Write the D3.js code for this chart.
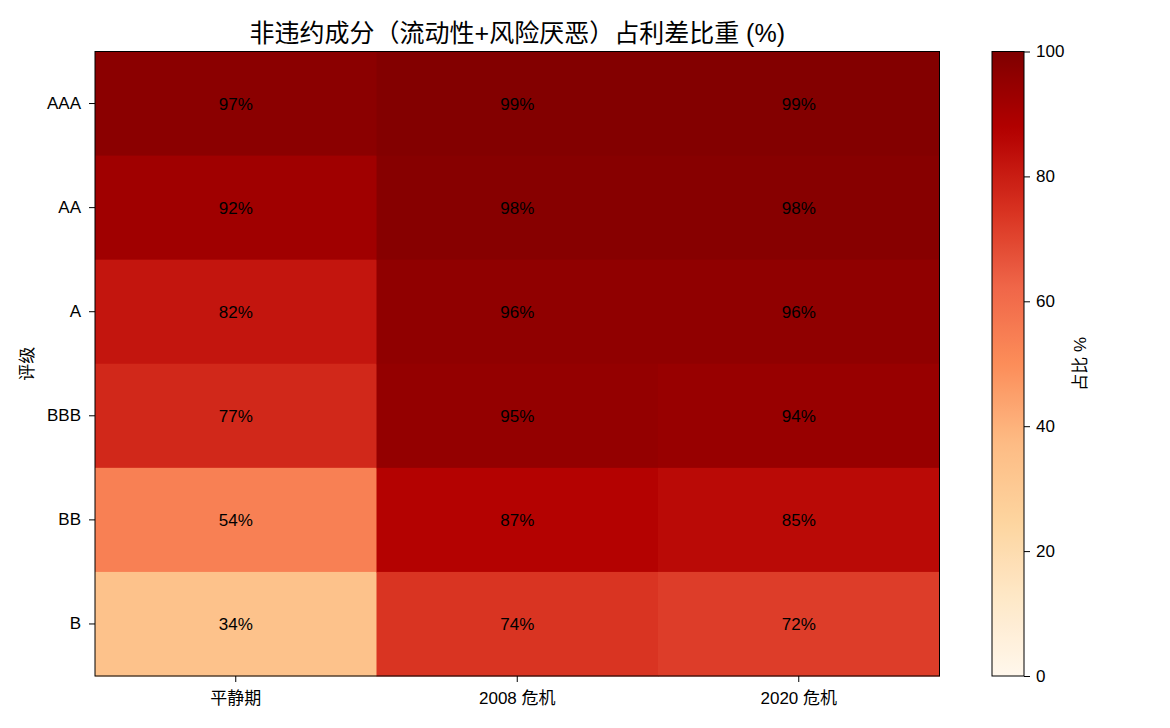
<!DOCTYPE html>
<html>
<head>
<meta charset="utf-8">
<script src="https://cdn.jsdelivr.net/npm/d3@7/dist/d3.min.js"></script>
<style>
  body { margin: 0; background: #fff; }
  svg { display: block; }
  text { font-family: "Liberation Sans", Arial, "Noto Sans CJK SC", sans-serif; fill: #000; }
</style>
</head>
<body>
<svg id="chart" width="1170" height="728"></svg>
<script>
// ---- data ----
const periods = ["平静期", "2008 危机", "2020 危机"];
const ratings = ["AAA", "AA", "A", "BBB", "BB", "B"];
const calmValues = [97, 92, 82, 77, 54, 34];
const crisis2008Values = [99, 98, 96, 95, 87, 74];
const crisis2020Values = [99, 98, 96, 94, 85, 72];
const colorbarTicks = [0, 20, 40, 60, 80, 100];
const titleText = "非违约成分（流动性+风险厌恶）占利差比重 (%)";
const yLabelText = "评级";
const cbarLabelText = "占比 %";

// OrRd colormap stops (ColorBrewer, as used by matplotlib)
const orrdStops = ["#fff7ec", "#fee8c8", "#fdd49e", "#fdbb84", "#fc8d59", "#ef6548", "#d7301f", "#b30000", "#7f0000"];

const seriesByPeriod = [calmValues, crisis2008Values, crisis2020Values];
const cells = [];
periods.forEach((p, i) => {
  ratings.forEach((r, j) => {
    cells.push({ period: p, rating: r, value: seriesByPeriod[i][j] });
  });
});

// ---- layout ----
const svg = d3.select("#chart");
const plot = { left: 95, top: 51.5, right: 939.5, bottom: 676 };
const cbar = { left: 992, right: 1024, top: 51.5, bottom: 676 };
const fontSize = 17;

const x = d3.scaleBand().domain(periods).range([plot.left, plot.right]).padding(0);
const y = d3.scaleBand().domain(ratings).range([plot.top, plot.bottom]).padding(0);
const color = d3.scaleLinear()
  .domain(orrdStops.map((_, i) => i * 100 / (orrdStops.length - 1)))
  .range(orrdStops)
  .interpolate(d3.interpolateRgb)
  .clamp(true);

// cells
svg.append("g").selectAll("rect").data(cells).join("rect")
  .attr("x", d => x(d.period))
  .attr("y", d => y(d.rating))
  .attr("width", x.bandwidth() + 0.5)
  .attr("height", y.bandwidth() + 0.5)
  .attr("fill", d => color(d.value));

// annotations
svg.append("g").selectAll("text").data(cells).join("text")
  .attr("x", d => x(d.period) + x.bandwidth() / 2)
  .attr("y", d => y(d.rating) + y.bandwidth() / 2)
  .attr("dy", "0.36em")
  .attr("text-anchor", "middle")
  .style("font-size", fontSize + "px")
  .text(d => d.value + "%");

// frame
svg.append("rect")
  .attr("x", plot.left).attr("y", plot.top)
  .attr("width", plot.right - plot.left).attr("height", plot.bottom - plot.top)
  .attr("fill", "none").attr("stroke", "#000").attr("stroke-width", 1);

// axes
const xAxis = svg.append("g")
  .attr("transform", `translate(0,${plot.bottom})`)
  .call(d3.axisBottom(x).tickSize(6).tickPadding(5));
const yAxis = svg.append("g")
  .attr("transform", `translate(${plot.left},0)`)
  .call(d3.axisLeft(y).tickSize(6).tickPadding(8));
[xAxis, yAxis].forEach(g => {
  g.select(".domain").remove();
  g.selectAll(".tick line").attr("stroke", "#000").attr("stroke-width", 1);
  g.selectAll(".tick text").style("font-size", fontSize + "px")
    .style("font-family", "'Liberation Sans', Arial, 'Noto Sans CJK SC', sans-serif")
    .attr("fill", "#000");
});
xAxis.selectAll(".tick text").attr("dy", "1em");

// y label
svg.append("text")
  .attr("transform", `translate(33,${(plot.top + plot.bottom) / 2}) rotate(-90)`)
  .attr("text-anchor", "middle")
  .style("font-size", fontSize + "px")
  .text(yLabelText);

// title
svg.append("text")
  .attr("x", (plot.left + plot.right) / 2)
  .attr("y", 42)
  .attr("text-anchor", "middle")
  .style("font-size", "25px")
  .text(titleText);

// colorbar
const defs = svg.append("defs");
const grad = defs.append("linearGradient")
  .attr("id", "cbgrad").attr("x1", 0).attr("y1", 1).attr("x2", 0).attr("y2", 0);
grad.selectAll("stop").data(d3.range(0, 101, 2)).join("stop")
  .attr("offset", d => d + "%")
  .attr("stop-color", d => color(d));

const cy = d3.scaleLinear().domain([0, 100]).range([cbar.bottom, cbar.top]);
svg.append("rect")
  .attr("x", cbar.left).attr("y", cbar.top)
  .attr("width", cbar.right - cbar.left).attr("height", cbar.bottom - cbar.top)
  .attr("fill", "url(#cbgrad)")
  .attr("stroke", "#000").attr("stroke-width", 1);

const cAxis = svg.append("g")
  .attr("transform", `translate(${cbar.right},0)`)
  .call(d3.axisRight(cy).tickValues(colorbarTicks).tickSize(6).tickPadding(6));
cAxis.select(".domain").remove();
cAxis.selectAll(".tick line").attr("stroke", "#000");
cAxis.selectAll(".tick text").style("font-size", fontSize + "px")
  .style("font-family", "'Liberation Sans', Arial, sans-serif").attr("fill", "#000");

svg.append("text")
  .attr("transform", `translate(1086,${(cbar.top + cbar.bottom) / 2}) rotate(-90)`)
  .attr("text-anchor", "middle")
  .style("font-size", fontSize + "px")
  .text(cbarLabelText);
</script>
</body>
</html>
